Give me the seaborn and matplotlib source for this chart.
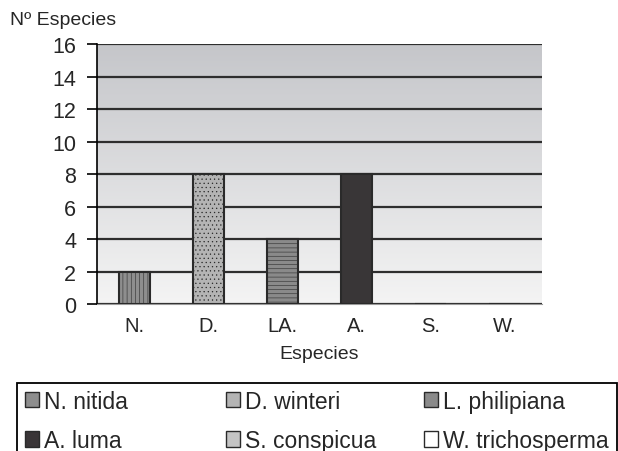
import numpy as np
import pandas as pd
import seaborn as sns
import matplotlib.pyplot as plt
from matplotlib.patches import Patch, Rectangle
from matplotlib.colors import LinearSegmentedColormap

# data
categorias = ["N.", "D.", "LA.", "A.", "S.", "W."]
especies = ["N. nitida", "D. winteri", "L. philipiana", "A. luma", "S. conspicua", "W. trichosperma"]
n_especies = [2, 8, 4, 8, 0, 0]

colores = ["#8e8e8e", "#b4b4b4", "#8a8a8a", "#3a3537", "#c4c4c4", "#ffffff"]
tramas = ["||||", "....", "----", "", "", ""]

df = pd.DataFrame({"cat": categorias, "val": n_especies, "especie": especies})

sns.set_style("white")
plt.rcParams['font.family'] = ['Liberation Sans', 'DejaVu Sans']
plt.rcParams['hatch.linewidth'] = 0.4

fig, ax = plt.subplots(figsize=(6.18, 4.52), dpi=100)
fig.subplots_adjust(left=0.157, right=0.877, top=0.9, bottom=0.325)

# gradient background of the plotting area (dark at top, light at bottom)
grad = np.linspace(0, 1, 256).reshape(-1, 1)
cmap = LinearSegmentedColormap.from_list("bg", ["#f4f4f4", "#c5c6ca"])
ax.imshow(grad, cmap=cmap, aspect="auto", extent=[0, 1, 0, 1], origin="lower",
          transform=ax.transAxes, zorder=0)

sns.barplot(data=df, x="cat", y="val", hue="cat", palette=colores,
            width=0.42, edgecolor="#2a2a2a", linewidth=1.5,
            legend=False, ax=ax, zorder=3)
for bar, h in zip(ax.patches, tramas):
    bar.set_hatch(h)

ax.set_ylim(0, 16)
ax.set_yticks(range(0, 17, 2))
ax.set_xlim(-0.5, 5.5)
ax.yaxis.grid(True, color="#2e2e2e", linewidth=1.6, zorder=1)
ax.set_axisbelow(True)

for s in ["top", "right"]:
    ax.spines[s].set_visible(False)
ax.spines["left"].set_color("black")
ax.spines["left"].set_linewidth(1.2)
ax.spines["bottom"].set_color("#9a9a9a")

ax.tick_params(axis="y", left=True, length=7, width=1.2, color="black",
               labelsize=15.5, pad=8)
ax.tick_params(axis="x", bottom=False, labelsize=14.5, pad=5)

ax.set_xlabel("Especies", fontsize=14, labelpad=7)
ax.set_ylabel("")
fig.text(0.016, 0.935, "Nº Especies", fontsize=14, ha="left", va="bottom")

# legend box with three columns of two entries each
fig.patches.append(Rectangle((17 / 618, -0.05), 600 / 618, 0.05 + (1 - 384 / 452),
                             transform=fig.transFigure, fill=False,
                             edgecolor="black", linewidth=1.3))
col_x = [20, 221, 419]
for c in range(3):
    idx = [c, c + 3]
    hs = [Patch(facecolor=colores[i], edgecolor="#2a2a2a", linewidth=1) for i in idx]
    fig.legend(hs, [especies[i] for i in idx], loc="upper left",
               bbox_to_anchor=(col_x[c] / 618, 1 - 386 / 452),
               frameon=False, fontsize=16.5, handlelength=0.65,
               handleheight=0.65, handletextpad=0.2, labelspacing=0.72,
               borderpad=0.2, borderaxespad=0)

plt.savefig("out.png", dpi=100)
